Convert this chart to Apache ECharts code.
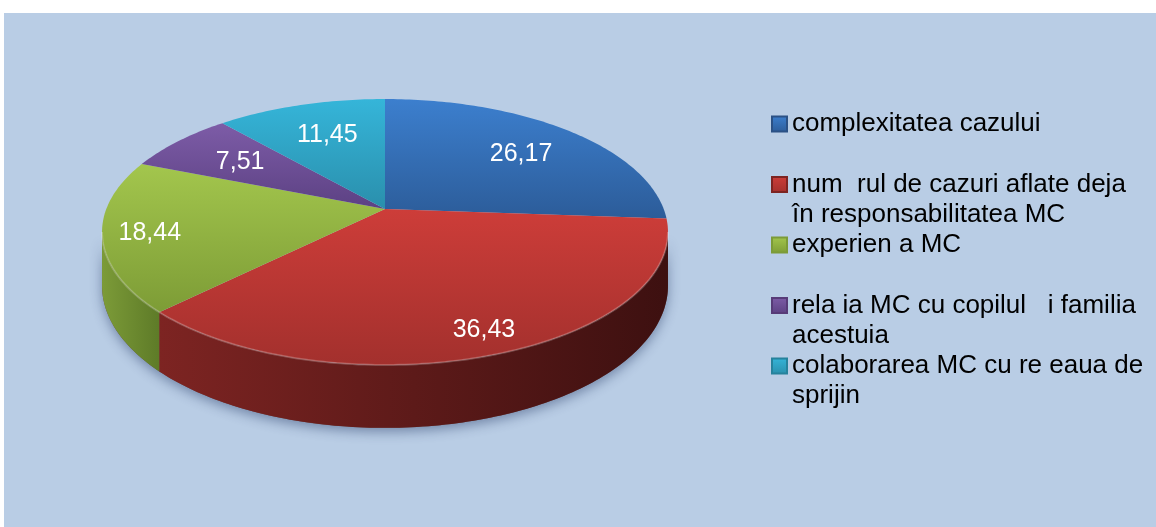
<!DOCTYPE html>
<html>
<head>
<meta charset="utf-8">
<script src="https://cdn.jsdelivr.net/npm/echarts@6/dist/echarts.min.js"></script>
<style>
  html, body { margin: 0; padding: 0; background: #ffffff; }
  #chart { width: 1156px; height: 527px; }
</style>
</head>
<body>
<div id="chart"></div>
<script>
// Categories (legend text, line breaks where the legend wraps)
const categories = [
  'complexitatea cazului',
  'num  rul de cazuri aflate deja\nîn responsabilitatea MC',
  'experien a MC',
  'rela ia MC cu copilul   i familia\nacestuia',
  'colaborarea MC cu re eaua de\nsprijin'
];
// Share of each category (%)
const values = [26.17, 36.43, 18.44, 7.51, 11.45];

// Top-face colours (light, dark) and side-wall colours (light, dark)
const faceColors = [
  ['#3c7fce', '#2c5c99'],
  ['#cd3d39', '#a3302d'],
  ['#a3c64d', '#7d9c36'],
  ['#7d5ca7', '#5c4183'],
  ['#35b5d9', '#2a8fac']
];
const wallColors = [
  ['#2b5185', '#1b3254'],
  ['#7d2422', '#3d1010'],
  ['#7c9b38', '#5e7b28'],
  ['#573b78', '#3a2650'],
  ['#26829c', '#185566']
];

// 3D pie geometry: centre of the top face, radii, perspective factor, thickness
const CX = 385, CY = 209, RX = 278.7, RY = 129, K = 0.173, DEPTH = 52;
const WALL_A0 = Math.acos(-K), WALL_A1 = 2 * Math.PI - Math.acos(-K);
const DEG = Math.PI / 180;

const total = values.reduce((a, b) => a + b, 0);
const starts = [];
values.reduce((acc, v) => { starts.push(acc); return acc + v; }, 0);

function proj(u, v) {
  const d = 1 - K * v;
  return [CX + RX * u / d, CY + RY * v / d, d];
}
function rim(a, f) {
  f = f == null ? 1 : f;
  return proj(f * Math.sin(a), -f * Math.cos(a));
}
function toAngle(p) { return p / total * 2 * Math.PI; }

function grad(c, horizontal) {
  return {
    type: 'linear', x: 0, y: 0, x2: horizontal ? 1 : 0, y2: horizontal ? 0 : 1,
    colorStops: [{ offset: 0, color: c[0] }, { offset: 1, color: c[1] }]
  };
}

function arcPoints(a0, a1) {
  const n = Math.max(4, Math.ceil((a1 - a0) / DEG));
  const pts = [];
  for (let s = 0; s <= n; s++) pts.push(rim(a0 + (a1 - a0) * s / n));
  return pts;
}

function renderSlice(i, value) {
  const a0 = toAngle(starts[i]);
  const a1 = toAngle(starts[i] + value);
  const children = [];

  // soft shadow under the whole pie (drawn once)
  if (i === 0) {
    const arc = arcPoints(WALL_A0, WALL_A1);
    const upper = arc.map(p => [p[0], p[1]]);
    const lower = arc.map(p => [p[0], p[1] + DEPTH / p[2]]).reverse();
    children.push({
      type: 'polygon', z2: 0, silent: true,
      shape: { points: upper.concat(lower) },
      style: { fill: '#6a4a4a', shadowColor: 'rgba(30,50,95,0.45)', shadowBlur: 12, shadowOffsetY: 4 }
    });
  }

  // visible side wall
  const lo = Math.max(a0, WALL_A0), hi = Math.min(a1, WALL_A1);
  if (hi > lo) {
    const arc = arcPoints(lo, hi);
    const upper = arc.map(p => [p[0], p[1]]);
    const lower = arc.map(p => [p[0], p[1] + DEPTH / p[2]]).reverse();
    children.push({
      type: 'polygon', z2: 1, silent: true,
      shape: { points: upper.concat(lower) },
      style: { fill: grad(wallColors[i], true) }
    });
    children.push({
      type: 'polyline', z2: 11, silent: true,
      shape: { points: upper },
      style: { fill: null, stroke: 'rgba(255,255,255,0.22)', lineWidth: 2 }
    });
  }

  // top face
  const top = [[CX, CY]].concat(arcPoints(a0, a1).map(p => [p[0], p[1]]));
  children.push({
    type: 'polygon', z2: 10, silent: true,
    shape: { points: top },
    style: { fill: grad(faceColors[i], false) }
  });

  // value label
  const mid = (a0 + a1) / 2;
  const f = -Math.cos(mid) > 0 ? 0.85 : 0.7;
  const lp = rim(mid, f);
  children.push({
    type: 'text', z2: 20, silent: true,
    x: lp[0] + 4, y: lp[1] + 2,
    style: {
      text: value.toFixed(2).replace('.', ','),
      fill: '#ffffff',
      font: '25px "Liberation Sans", Arial, sans-serif',
      align: 'center', verticalAlign: 'middle'
    }
  });

  return { type: 'group', children };
}

// Legend layout
const LEGEND_X = 771, LEGEND_Y0 = 124, LEGEND_STEP = 60.5, LINE_H = 30;

const chart = echarts.init(document.getElementById('chart'), null, { renderer: 'canvas' });
chart.setOption({
  backgroundColor: '#ffffff',
  animation: false,
  graphic: [{
    type: 'rect', z: -10, silent: true,
    shape: { x: 4, y: 13, width: 1152, height: 514 },
    style: { fill: '#b9cde5' }
  }],
  legend: categories.map((name, i) => ({
    data: [name],
    orient: 'vertical',
    left: LEGEND_X,
    top: LEGEND_Y0 + i * LEGEND_STEP - 1.5 * LINE_H,
    padding: 0,
    itemWidth: 15,
    itemHeight: 15,
    itemGap: 0,
    icon: 'rect',
    selectedMode: false,
    formatter: n => '\n' + n + (n.indexOf('\n') < 0 ? '\n' : ''),
    textStyle: {
      color: '#000000',
      fontSize: 26,
      lineHeight: LINE_H,
      fontFamily: '"Liberation Sans", Arial, sans-serif'
    }
  })),
  series: categories.map((name, i) => ({
    type: 'custom',
    name: name,
    coordinateSystem: 'none',
    itemStyle: {
      color: {
        type: 'linear', x: 0, y: 0, x2: 0, y2: 1,
        colorStops: [
          { offset: 0, color: faceColors[i][0] },
          { offset: 1, color: faceColors[i][1] }
        ]
      },
      borderColor: wallColors[i][0],
      borderWidth: 1
    },
    data: [[values[i]]],
    renderItem: (params, api) => renderSlice(i, api.value(0))
  }))
});
</script>
</body>
</html>
